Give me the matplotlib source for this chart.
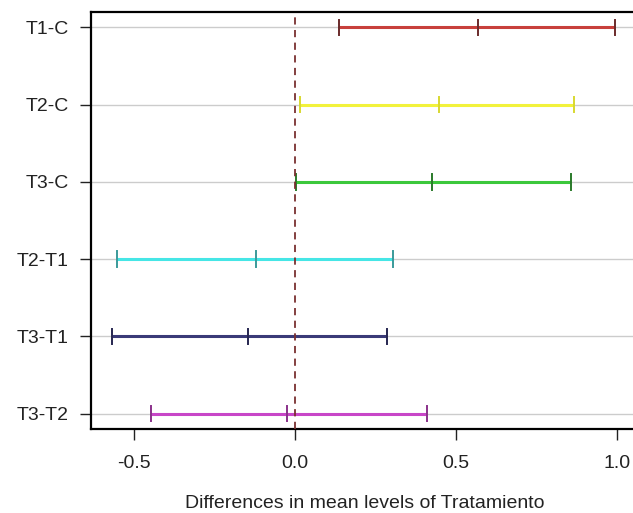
import matplotlib
matplotlib.use('Agg')
import matplotlib.pyplot as plt

plt.rcParams['font.family'] = ['Liberation Sans', 'DejaVu Sans']

# comparaciones de Tukey (de arriba hacia abajo)
comparaciones = ['T1-C', 'T2-C', 'T3-C', 'T2-T1', 'T3-T1', 'T3-T2']
diff = [0.569, 0.448, 0.424, -0.121, -0.145, -0.024]
lwr = [0.138, 0.015, 0.002, -0.552, -0.568, -0.448]
upr = [0.994, 0.866, 0.856, 0.305, 0.287, 0.409]
colores = ['#c8403c', '#f2f23c', '#3cc83c', '#46e6e6', '#3a3a78', '#c846c8']
colores_tick = ['#6a2a2a', '#d8d830', '#2a7a2a', '#3a9a9a', '#262650', '#8a308a']

fig = plt.figure(figsize=(6.33, 5.13), dpi=100)
ax = fig.add_axes([0.1441, 0.1637, 0.8627, 0.8129])

n = len(comparaciones)
ys = list(range(n, 0, -1))

for y in ys:
    ax.axhline(y, color='#cccccc', lw=1, zorder=1)

ax.axvline(0, color='#7a3030', lw=1.3, ls=(0, (4, 3)), zorder=4)

for i in range(n):
    y = ys[i]
    ax.plot([lwr[i], upr[i]], [y, y], color=colores[i], lw=2.2, zorder=2,
            solid_capstyle='butt')
    for v in (lwr[i], diff[i], upr[i]):
        ax.plot([v, v], [y - 0.1, y + 0.1], color=colores_tick[i], lw=1.4, zorder=3)

ax.set_xlim(-0.633, 1.063)
ax.set_ylim(0.8, 6.2)
ax.set_yticks(ys)
ax.set_yticklabels(comparaciones)
ax.set_xticks([-0.5, 0.0, 0.5, 1.0])
ax.set_xticklabels(['-0.5', '0.0', '0.5', '1.0'])
ax.tick_params(axis='both', direction='out', length=8, width=1, colors='#222222',
               labelsize=14, labelcolor='#222222')
ax.tick_params(axis='x', pad=11)
ax.tick_params(axis='y', pad=8)

for s in ax.spines.values():
    s.set_linewidth(1.6)
    s.set_color('black')

ax.set_xlabel('Differences in mean levels of Tratamiento', fontsize=14,
              color='#222222', labelpad=16)

fig.savefig('out.png', dpi=100)
